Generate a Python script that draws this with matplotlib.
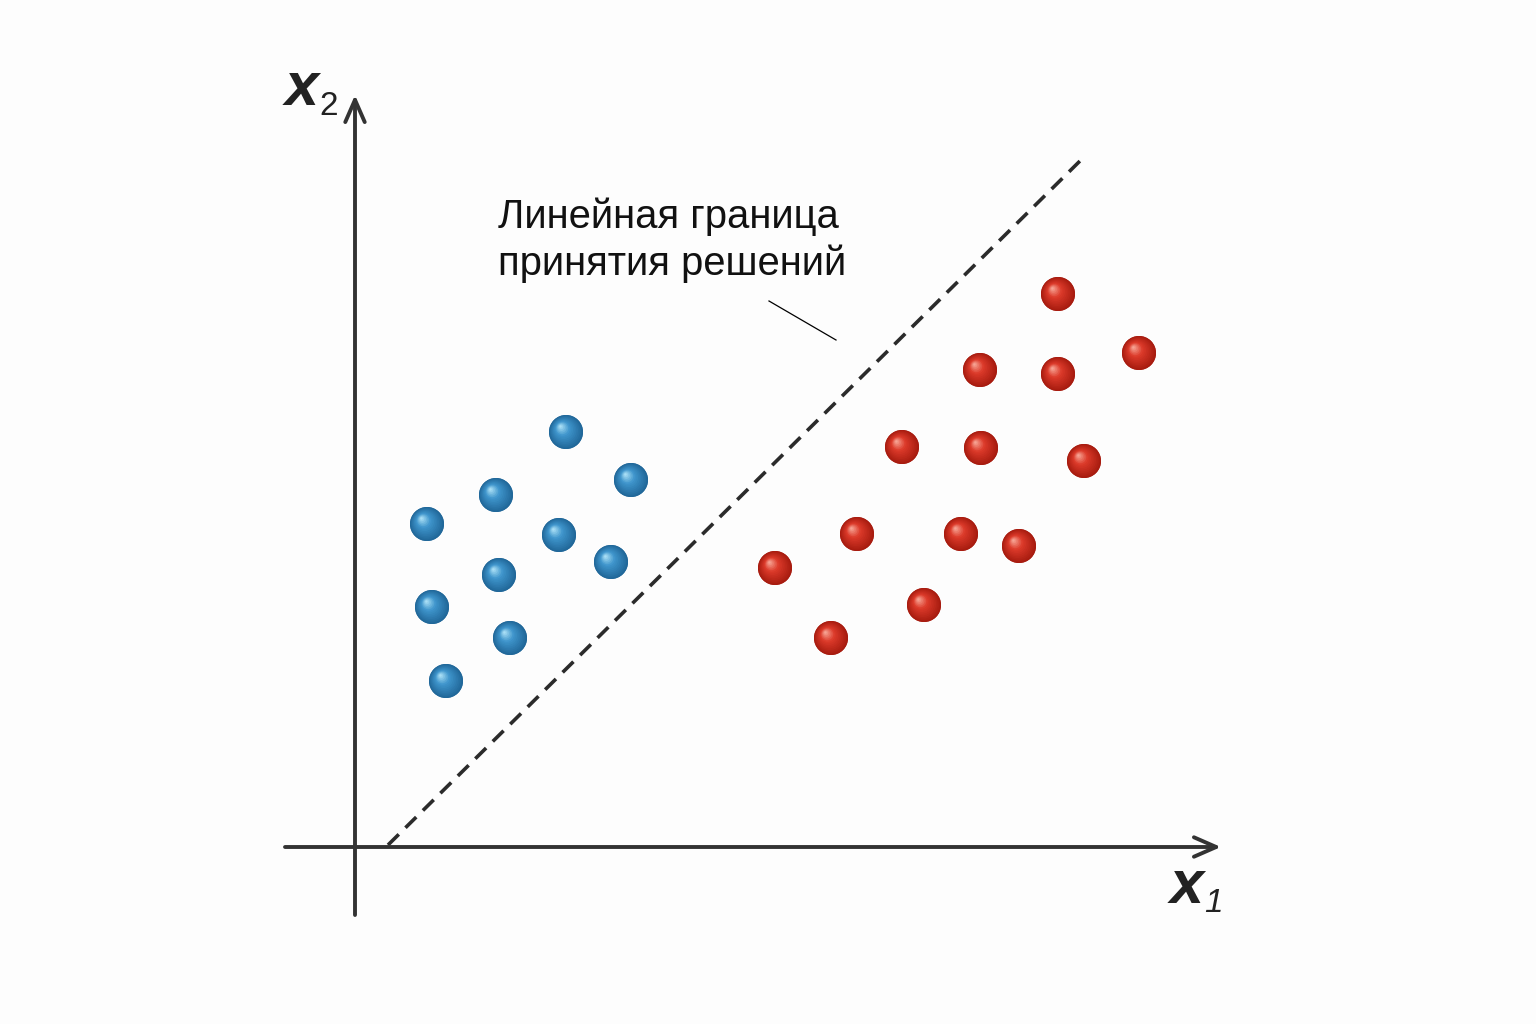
import numpy as np
import matplotlib
matplotlib.use("Agg")
from matplotlib import pyplot as plt
from matplotlib.colors import to_rgb

plt.rcParams['font.family'] = ['Liberation Sans', 'DejaVu Sans']

# class A (blue) points, x1 / x2
blue_x = [2.11, 2.76, 1.41, 0.72, 2.04, 2.56, 1.44, 0.77, 1.55, 0.91]
blue_y = [4.15, 3.67, 3.52, 3.23, 3.12, 2.85, 2.72, 2.40, 2.09, 1.66]

# class B (red) points
red_x = [7.03, 7.84, 6.25, 7.03, 5.47, 6.26, 7.29, 5.02, 6.06, 6.64, 4.20, 5.69, 4.76]
red_y = [5.53, 4.94, 4.77, 4.73, 4.00, 3.99, 3.86, 3.13, 3.13, 3.01, 2.79, 2.42, 2.09]

# decision boundary end points
line_x = [0.33, 7.31]
line_y = [0.02, 6.92]

label_text = "Линейная граница\nпринятия решений"

fig = plt.figure(figsize=(15.36, 10.24), dpi=100)
fig.patch.set_facecolor('#fdfdfd')
ax = fig.add_axes([0, 0, 1, 1])
ax.set_facecolor('#fdfdfd')
ax.set_xlim(-3.55, 11.81)
ax.set_ylim(-1.77, 8.47)
ax.axis('off')

axis_col = '#333333'

# axes with arrows
arrow = dict(arrowstyle='->,head_length=1.6,head_width=0.7',
             color=axis_col, lw=2.8, shrinkA=0, shrinkB=0)
ax.annotate('', xy=(8.66, 0), xytext=(-0.70, 0), arrowprops=arrow)
ax.annotate('', xy=(0, 7.52), xytext=(0, -0.68), arrowprops=arrow)

# dashed decision boundary
ax.plot(line_x, line_y, ls=(0, (4.2, 2.6)), color='#2b2b2b', lw=2.6)

# axis labels
ax.text(-0.70, 7.42, 'x', fontsize=44, fontweight='bold', style='italic',
        color='#222222', ha='left', va='baseline')
ax.text(-0.36, 7.32, '2', fontsize=24, color='#222222', ha='left', va='baseline')
ax.text(8.15, -0.56, 'x', fontsize=44, fontweight='bold', style='italic',
        color='#222222', ha='left', va='baseline')
ax.text(8.49, -0.65, '1', fontsize=24, style='italic', color='#222222',
        ha='left', va='baseline')

# annotation
ax.text(1.43, 6.50, label_text, fontsize=28.8, color='#111111',
        ha='left', va='top', linespacing=1.3)
ax.plot([4.14, 4.81], [5.46, 5.07], color='black', lw=0.9)


def balls(xs, ys, dark, base, light):
    xs = np.asarray(xs)
    ys = np.asarray(ys)
    dark, base, light = to_rgb(dark), to_rgb(base), to_rgb(light)
    ax.scatter(xs, ys, s=600, color=dark, edgecolors='none', zorder=3)
    n = 14
    for i in range(n):
        t = i / (n - 1)
        if t < 0.6:
            c = np.array(dark) + (np.array(base) - np.array(dark)) * (t / 0.6)
        else:
            c = np.array(base) + (np.array(light) - np.array(base)) * ((t - 0.6) / 0.4)
        size = 600 * (1 - t * 0.93) ** 2
        off = 0.055 * t
        ax.scatter(xs - off, ys + off, s=size, color=c, edgecolors='none', zorder=3)


balls(blue_x, blue_y, '#21689a', '#3f95cc', '#a8def5')
balls(red_x, red_y, '#a81c10', '#dc3a2a', '#f6a292')

fig.savefig('out.png', dpi=100, facecolor=fig.get_facecolor())
